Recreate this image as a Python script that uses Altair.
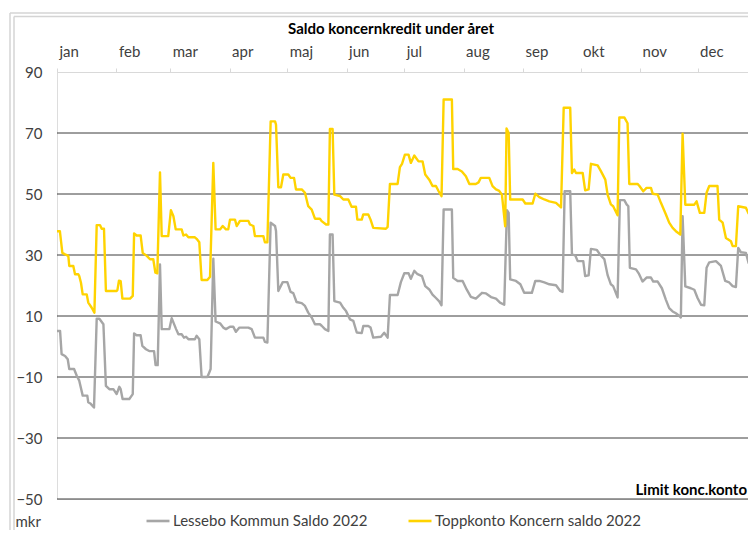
import altair as alt
import pandas as pd

# ---------------- data ----------------
series_names = ["Lessebo Kommun Saldo 2022", "Toppkonto Koncern saldo 2022"]
series_colors = ["#A6A6A6", "#FFD300"]

month_labels = ["jan", "feb", "mar", "apr", "maj", "jun",
                "jul", "aug", "sep", "okt", "nov", "dec"]
month_start_day = [0, 31, 59, 90, 120, 151, 181, 212, 243, 273, 304, 334]

y_ticks = [-50, -30, -10, 10, 30, 50, 70, 90]
grid_values = [70, 50, 30, 10, -10, -30, -50]

# Toppkonto Koncern saldo 2022 (day of year, mkr)
topp_day = [0, 1.5, 2.8, 4.2, 5.9, 6.4, 8.5, 9.4, 11.1, 11.6, 12.5, 13.4, 15.5, 16.3, 18.1, 19.5,
            20.7, 22.4, 23.3, 24.5, 25.5, 31.1, 31.5, 32.3, 33.2, 34.1, 38.1, 39.5, 40.2, 41.5,
            43.6, 44.7, 46.8, 48.5, 50.2, 51.3, 52.3, 53.7, 54.6, 58.0, 59.4, 60.7, 61.9, 65.0,
            65.9, 67.3, 68.5, 71.9, 72.8, 74.2, 75.4, 78.4, 79.8, 81.5, 82.7, 85.0, 86.4, 88.1,
            89.3, 90.2, 92.8, 93.7, 95.4, 99.8, 100.6, 102.4, 103.2, 107.6, 108.4, 109.7, 111.4,
            113.7, 114.2, 115.4, 116.8, 118.0, 120.6, 121.8, 123.6, 124.6, 127.6, 129.3, 131.0,
            132.8, 134.5, 137.1, 138.0, 140.3, 141.5, 142.3, 143.7, 144.6, 147.6, 149.3, 151.9,
            153.6, 155.9, 156.6, 158.9, 159.7, 162.3, 163.5, 164.9, 171.5, 172.4, 173.6, 177.6,
            178.8, 179.9, 181.4, 183.3, 184.5, 186.3, 188.5, 190.6, 192.0, 194.1, 195.8, 197.6,
            199.0, 200.5, 201.6, 205.9, 206.6, 208.9, 211.1, 213.2, 215.0, 218.4, 219.8, 221.0,
            225.4, 227.1, 228.9, 230.6, 232.0, 233.7, 234.4, 235.5, 236.3, 242.8, 244.2, 248.0,
            249.4, 251.5, 254.1, 256.7, 260.2, 262.8, 264.2, 267.6, 268.5, 269.7, 270.6, 274.1,
            275.4, 277.2, 278.4, 281.9, 283.6, 285.9, 287.1, 288.8, 290.0, 292.3, 293.2, 295.8,
            297.5, 298.4, 302.7, 303.6, 305.7, 307.4, 309.7, 310.6, 313.2, 314.9, 317.5, 319.2,
            321.0, 322.7, 325.0, 326.2, 327.6, 332.3, 333.5, 335.2, 337.5, 338.7, 340.1, 344.4,
            345.3, 347.1, 348.8, 351.4, 352.3, 354.0, 355.2, 359.2, 360.6, 361.8, 364.1]
topp_mkr = [37.8, 37.8, 30.7, 30.2, 29.7, 26.4, 26.4, 23.7, 23.7, 23.1, 20.9, 17.1, 17.1, 14.4, 12.7, 11.1,
            39.8, 39.8, 38.6, 38.6, 18.2, 18.2, 18.5, 21.6, 21.4, 15.7, 15.7, 16.6, 37.1, 36.4,
            36.4, 30.7, 29.7, 28.6, 28.6, 24.2, 24.0, 57.1, 36.2, 36.2, 44.7, 42.7, 38.4, 38.4,
            36.4, 36.7, 35.8, 35.8, 35.3, 34.2, 21.8, 21.8, 22.9, 60.2, 38.4, 38.4, 39.5, 38.4,
            38.4, 41.6, 41.6, 39.5, 41.2, 41.2, 40.0, 39.5, 36.2, 36.2, 34.2, 34.2, 73.8,
            73.8, 72.7, 52.2, 52.2, 56.4, 56.4, 55.3, 55.3, 51.5, 51.5, 50.4, 46.0,
            44.9, 41.9, 41.9, 41.1, 40.0, 40.0, 71.3, 71.3, 49.8, 49.3, 48.2, 48.2,
            45.8, 45.8, 41.6, 41.6, 43.3, 43.3, 41.6, 38.9, 38.6, 39.2, 53.3, 53.3,
            58.8, 59.9, 62.9, 62.9, 60.2, 62.6, 60.7, 60.7, 56.4, 54.7, 52.6, 52.6,
            50.9, 49.3, 81.0, 81.0, 58.2, 58.2, 57.4, 55.8, 53.3, 53.3, 53.8, 55.3,
            55.3, 52.6, 51.5, 51.0, 49.8, 39.4, 71.5, 70.0, 48.2, 48.2, 46.9, 46.9,
            50.1, 49.0, 48.2, 47.6, 47.1, 45.6, 78.3, 78.3, 56.9, 58.0, 56.9, 56.9,
            51.2, 51.5, 59.9, 59.4, 57.5, 54.7, 49.8, 46.6, 46.0, 43.0, 75.1, 75.1,
            73.2, 53.3, 53.3, 52.7, 50.9, 52.0, 52.0, 50.1, 49.8, 47.1, 43.3, 40.6,
            38.9, 37.8, 36.7, 69.8, 46.5, 46.5, 47.6, 43.8, 43.8, 50.4, 52.6, 52.6,
            41.6, 40.6, 35.6, 34.5, 32.9, 32.9, 46.0, 45.5, 43.6, 43.8, 46.0]

# Lessebo Kommun Saldo 2022 (day of year, mkr)
lessebo_day = [0, 1.6, 2.4, 4.2, 5.6, 6.4, 8.9, 10.3, 11.6, 13.4, 15.8, 16.3, 17.6, 19.3, 20.7, 22.1,
               24.2, 25.5, 27.3, 29.4, 31.1, 32.5, 33.2, 34.2, 37.7, 39.5, 40.2, 41.5, 43.6, 44.5,
               46.4, 48.1, 50.6, 51.4, 52.5, 53.7, 54.6, 58.6, 59.8, 62.1, 63.3, 65.0, 66.2, 67.3,
               68.5, 71.9, 72.8, 74.2, 75.4, 78.4, 79.4, 80.1, 81.5, 82.7, 85.0, 86.7, 88.1, 90.2,
               91.9, 93.3, 95.1, 99.8, 101.5, 103.2, 107.6, 108.4, 109.7, 111.4, 113.7, 114.2,
               115.4, 117.7, 120.1, 121.8, 123.2, 124.9, 127.6, 129.3, 131.0, 132.8, 134.5, 137.1,
               138.0, 139.7, 141.5, 142.3, 143.7, 144.6, 147.6, 149.3, 150.7, 152.8, 154.5, 156.3,
               158.9, 159.7, 162.3, 163.5, 164.9, 168.9, 170.6, 172.4, 173.6, 177.6, 179.3, 181.1,
               183.3, 184.5, 186.3, 188.0, 190.3, 192.0, 194.1, 195.8, 197.6, 199.3, 200.5, 201.6,
               205.9, 206.6, 208.9, 211.5, 213.6, 215.8, 218.4, 221.6, 223.7, 226.3, 228.9, 231.0,
               233.2, 234.6, 235.5, 236.3, 239.3, 241.6, 243.6, 247.6, 249.4, 251.5, 254.1, 256.7,
               260.2, 262.4, 263.6, 264.7, 267.6, 268.5, 270.2, 271.5, 274.4, 275.4, 277.2, 278.4,
               281.4, 283.1, 285.4, 287.1, 288.8, 290.0, 292.3, 293.5, 295.8, 297.0, 297.9, 298.7,
               301.9, 303.3, 305.3, 307.4, 309.7, 310.9, 313.2, 315.4, 317.5, 319.2, 321.0, 322.7,
               324.5, 325.3, 326.2, 327.6, 330.5, 332.3, 334.0, 335.8, 337.5, 338.7, 340.1, 343.6,
               346.2, 348.4, 350.5, 352.3, 354.0, 355.2, 356.6, 359.2, 360.6, 364.1]
lessebo_mkr = [5.1, 5.1, -2.5, -3.1, -4.2, -7.4, -7.4, -9.6, -11.2, -16.1, -16.1, -18.3, -18.8, -20.0, 9.1, 9.1,
               7.3, -12.9, -14.0, -14.0, -15.6, -13.2, -14.0, -17.2, -17.2, -15.6, 4.3, 3.7, 3.7, 0.2,
               -0.9, -1.5, -1.5, -6.1, -6.1, 26.9, 5.7, 5.7, 9.3, 5.7, 4.0, 4.0, 2.9, 3.2,
               2.4, 2.4, 3.5, 2.4, -10.0, -10.0, -8.5, -7.4, 28.8, 8.2, 7.6, 6.2, 5.7, 6.5,
               6.5, 4.8, 6.2, 6.2, 5.7, 2.9, 2.9, 1.5, 1.3, 40.6, 39.5, 37.9,
               18.2, 21.1, 21.1, 17.9, 17.5, 14.6, 14.2, 13.3, 11.1, 9.5, 7.3, 7.3,
               6.8, 5.7, 5.1, 36.7, 36.7, 14.9, 14.4, 12.7, 11.6, 8.9, 8.4, 4.6,
               4.4, 6.7, 6.7, 6.2, 2.9, 3.2, 4.5, 2.9, 16.9, 16.9, 21.1, 24.0,
               24.0, 22.2, 24.8, 23.7, 23.1, 19.8, 18.7, 17.0, 15.9, 14.8, 13.5, 44.9,
               44.9, 22.5, 21.5, 21.5, 18.7, 16.3, 15.7, 17.6, 17.4, 16.2, 15.7, 14.4,
               13.7, 44.7, 43.8, 22.0, 21.5, 20.4, 17.6, 17.6, 21.5, 21.5, 21.0, 20.4,
               20.1, 18.2, 17.9, 50.9, 50.9, 30.2, 29.9, 28.0, 28.0, 23.1, 23.3, 32.0,
               31.7, 30.2, 28.6, 23.4, 20.4, 19.8, 16.1, 48.0, 48.0, 46.6, 46.0, 25.8,
               25.3, 24.0, 21.3, 22.6, 22.6, 21.3, 21.3, 19.1, 15.3, 12.6, 11.5, 10.9,
               10.0, 9.5, 42.7, 19.7, 19.1, 18.6, 15.9, 13.7, 13.5, 25.8, 27.6, 28.0,
               26.4, 21.5, 21.0, 19.8, 19.5, 32.3, 30.9, 30.7, 27.4, 27.6]

chart_title = "Saldo koncernkredit under året"
limit_label = "Limit konc.konto"
limit_value = -50
unit_label = "mkr"

# The reference picture is cut at its right edge a few days before year end
visible_last_day = 360.3

# ---------------- tables ----------------
df = pd.concat([
    pd.DataFrame({"dag": lessebo_day, "mkr": lessebo_mkr, "serie": series_names[0], "ord": 0}),
    pd.DataFrame({"dag": topp_day, "mkr": topp_mkr, "serie": series_names[1], "ord": 1}),
], ignore_index=True)

grid_df = pd.DataFrame({"v": grid_values})
limit_df = pd.DataFrame({"dag": [visible_last_day], "v": [limit_value], "t": [limit_label]})
title_df = pd.DataFrame({"t": [chart_title]})
frame_df = pd.DataFrame({"k": [0]})

FONT = "Lato"
TXT = "#404040"
W, H = 691, 427

month_expr = ("[" + ",".join("'%s'" % m for m in month_labels) + "][indexof(["
              + ",".join(str(d) for d in month_start_day) + "], datum.value)]")

x_scale = alt.Scale(domain=[0, visible_last_day], nice=False, zero=False)
x_enc = alt.X("dag:Q", scale=x_scale,
              axis=alt.Axis(orient="top", values=month_start_day, labelExpr=month_expr,
                            labelAlign="left", labelOffset=2, labelBaseline="alphabetic",
                            labelPadding=12, tickSize=4, tickColor="#d9d9d9",
                            domainColor="#d9d9d9", domainWidth=1, grid=False, title=None,
                            labelFont=FONT, labelFontSize=15, labelColor=TXT))
y_scale = alt.Scale(domain=[-50, 90], nice=False, zero=False)

lines = alt.Chart(df).mark_line(strokeWidth=2.4, strokeJoin="round", clip=True).encode(
    x=x_enc,
    y=alt.Y("mkr:Q", scale=y_scale,
            axis=alt.Axis(values=y_ticks, grid=False, domain=False, ticks=False,
                          labelPadding=15, labelFont=FONT, labelFontSize=15, labelColor=TXT,
                          title=unit_label, titleAngle=0, titleX=-42, titleY=454,
                          titleAlign="left", titleBaseline="alphabetic", titleFont=FONT,
                          titleFontSize=15, titleFontWeight="normal", titleColor=TXT)),
    color=alt.Color("serie:N", scale=alt.Scale(domain=series_names, range=series_colors),
                    legend=alt.Legend(orient="none", legendX=88, legendY=436,
                                      direction="horizontal", title=None,
                                      symbolType="stroke", symbolSize=529,
                                      symbolStrokeWidth=2.6, labelFont=FONT,
                                      labelFontSize=15, labelColor=TXT, labelLimit=0,
                                      columnPadding=35, labelOffset=2, padding=0)),
    order="ord:Q",
    detail="serie:N",
)

grid = alt.Chart(grid_df).mark_rule(color="#3c3c3c", strokeWidth=1).encode(
    y=alt.Y("v:Q", scale=y_scale))

limit = alt.Chart(limit_df).mark_text(align="right", baseline="alphabetic", dx=-1, dy=-4,
                                      font=FONT, fontSize=15, fontWeight="bold",
                                      color="#000000").encode(
    x=alt.X("dag:Q", scale=x_scale), y=alt.Y("v:Q", scale=y_scale), text="t:N")

title = alt.Chart(title_df).mark_text(align="center", baseline="alphabetic", font=FONT,
                                      fontSize=15, fontWeight="bold", color="#000000").encode(
    x=alt.value(334), y=alt.value(-38.5), text="t:N")

frame_style = dict(color="#d4d4d4", strokeWidth=1.5)
frame = alt.layer(
    alt.Chart(frame_df).mark_rule(**frame_style).encode(
        x=alt.value(-47), x2=alt.value(W + 20), y=alt.value(-59)),
    alt.Chart(frame_df).mark_rule(**frame_style).encode(
        x=alt.value(-43), x2=alt.value(W + 20), y=alt.value(-55.5)),
    alt.Chart(frame_df).mark_rule(**frame_style).encode(
        x=alt.value(-47), y=alt.value(-59), y2=alt.value(H + 60)),
    alt.Chart(frame_df).mark_rule(**frame_style).encode(
        x=alt.value(-43), y=alt.value(-55.5), y2=alt.value(H + 60)),
)

chart = alt.layer(frame, grid, lines, limit, title).properties(
    width=W, height=H,
    autosize=alt.AutoSizeParams(type="none"),
    padding={"left": 49, "top": 64, "right": 0, "bottom": 31},
).configure_view(stroke=None).configure(background="white")

chart.save("out.html", embed_options={"renderer": "svg", "actions": False})
